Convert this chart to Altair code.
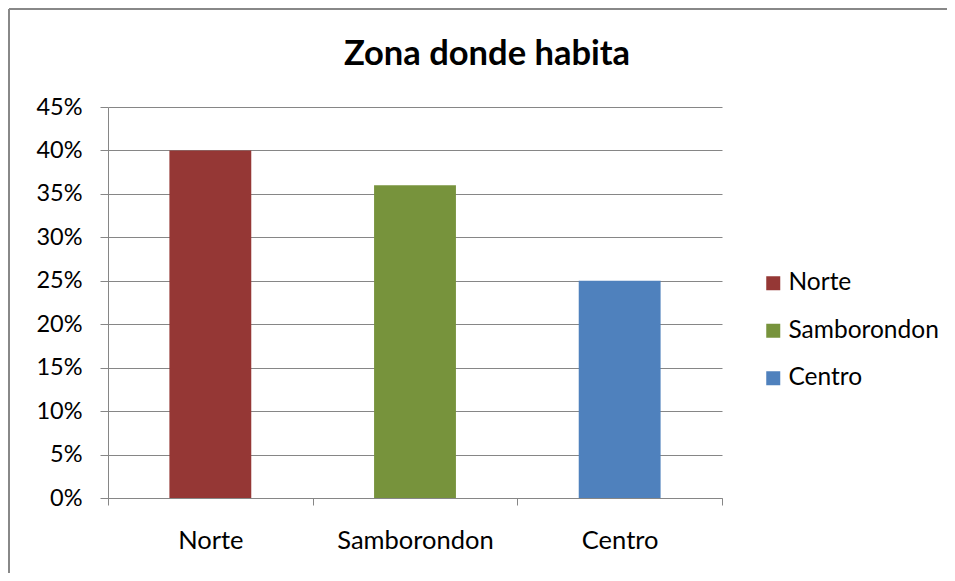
import altair as alt
import pandas as pd

zonas = ["Norte", "Samborondon", "Centro"]
valores = [0.40, 0.36, 0.25]
colores = ["#953735", "#77933C", "#4F81BD"]
titulo = "Zona donde habita"

df = pd.DataFrame({"zona": zonas, "valor": valores})

FONT = "Lato"
W, H = 614, 391

bars = alt.Chart(df).mark_bar(width={"band": 0.4}).encode(
    x=alt.X("zona:N", sort=zonas, title=None,
            scale=alt.Scale(paddingInner=0, paddingOuter=0),
            axis=alt.Axis(labelAngle=0, tickBand="extent", labelFontSize=25.5,
                          labelPadding=23, tickSize=7, labelColor="#000",
                          domainColor="#868686", tickColor="#868686",
                          labelFont=FONT)),
    y=alt.Y("valor:Q", title=None,
            scale=alt.Scale(domain=[0, 0.45], nice=False),
            axis=alt.Axis(format=".0%", values=[i * 0.05 for i in range(10)],
                          grid=True, gridColor="#868686", gridOpacity=1,
                          domainColor="#868686", tickColor="#868686",
                          tickSize=8, labelPadding=18, labelFontSize=23.5,
                          labelColor="#000", labelFont=FONT)),
    color=alt.Color("zona:N", sort=zonas,
                    scale=alt.Scale(domain=zonas, range=colores),
                    legend=alt.Legend(title=None, orient="none", legendX=653,
                                      legendY=164, symbolType="square",
                                      symbolSize=196, symbolStrokeWidth=0,
                                      labelFontSize=24.5, labelFont=FONT,
                                      labelColor="#000", rowPadding=22.5,
                                      labelOffset=3)),
)

one = pd.DataFrame({"k": [0]})
title_mark = alt.Chart(one).mark_text(
    text=titulo, font=FONT, fontSize=34.5, fontWeight="bold", color="#000",
    align="center", baseline="alphabetic"
).encode(x=alt.value(379), y=alt.value(-42))

top_border = alt.Chart(one).mark_rule(color="#888888", strokeWidth=2).encode(
    x=alt.value(-99), x2=alt.value(839), y=alt.value(-98)
)
left_border = alt.Chart(one).mark_rule(color="#888888", strokeWidth=2).encode(
    x=alt.value(-99), y=alt.value(-98), y2=alt.value(466)
)

chart = alt.layer(bars, title_mark, top_border, left_border).properties(
    width=W, height=H,
    autosize=alt.AutoSizeParams(type="none"),
    padding={"left": 100, "top": 99, "right": 225, "bottom": 75},
).configure_view(stroke=None)

chart.save("out.html", embed_options={"renderer": "svg", "actions": False})
